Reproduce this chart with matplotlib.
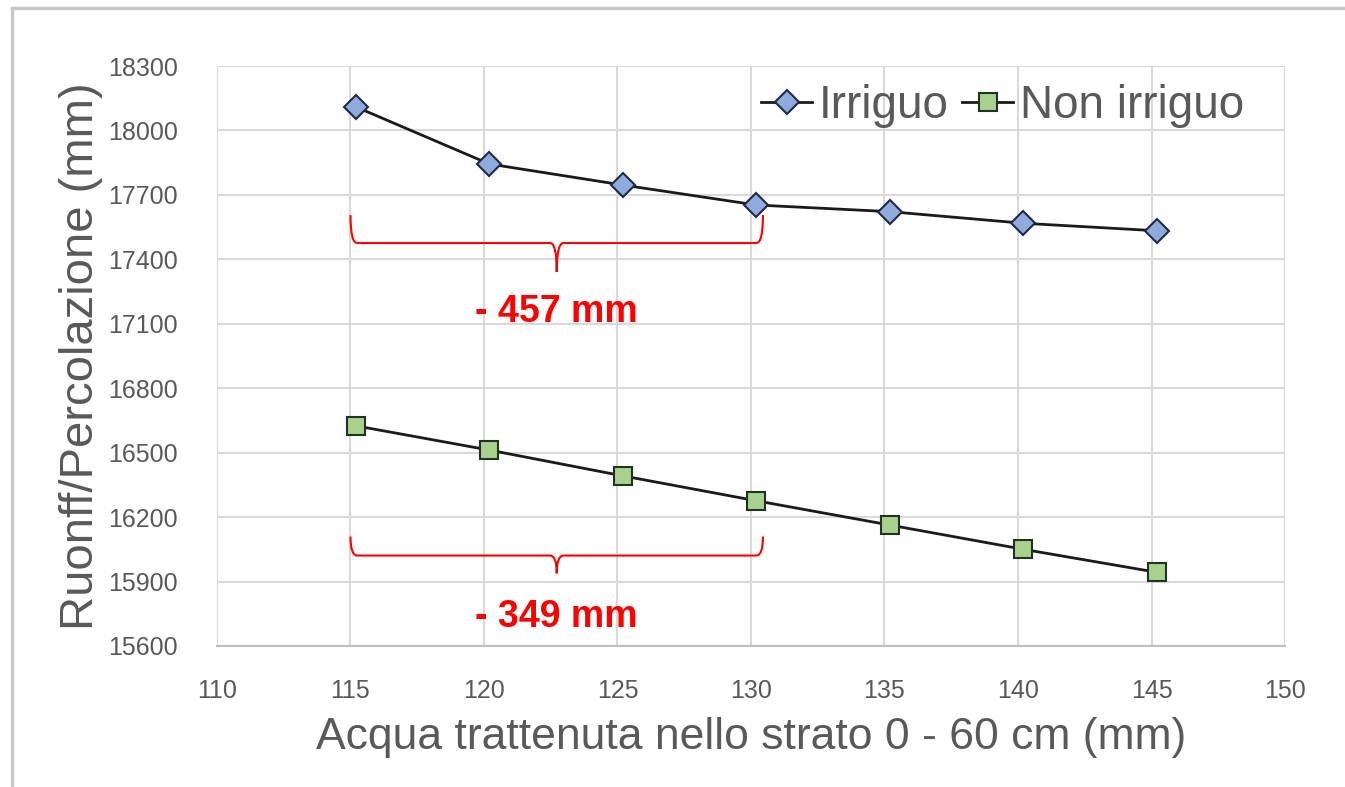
import matplotlib.pyplot as plt
from matplotlib.path import Path
from matplotlib.patches import PathPatch, Rectangle

# Water retained in the 0-60 cm layer (mm)
acqua = [115.2, 120.2, 125.2, 130.2, 135.2, 140.2, 145.2]
# Runoff / percolation (mm)
irriguo = [18110, 17844, 17746, 17653, 17622, 17568, 17533]
non_irriguo = [16625, 16512, 16392, 16276, 16163, 16050, 15943]

x_ticks = list(range(110, 151, 5))
y_ticks = list(range(15600, 18301, 300))

plt.rcParams['font.family'] = ['Liberation Sans', 'DejaVu Sans']

fig = plt.figure(figsize=(13.45, 7.87), dpi=100)
ax = fig.add_axes([0.1613, 0.1792, 0.7941, 0.7369])

# thin frame round the whole chart
fig.patches.append(Rectangle((0.009, -0.02), 1.2, 1.01, transform=fig.transFigure,
                             fill=False, edgecolor='#c8c8c8', linewidth=2.5))

ax.plot(acqua, irriguo, color='#1a1a1a', linewidth=2, marker='D', markersize=12,
        markerfacecolor='#8faadc', markeredgecolor='#1f2a44', markeredgewidth=1.5,
        label='Irriguo', zorder=3)
ax.plot(acqua, non_irriguo, color='#1a1a1a', linewidth=2, marker='s', markersize=13,
        markerfacecolor='#a9d18e', markeredgecolor='#1e3320', markeredgewidth=1.5,
        label='Non irriguo', zorder=3)

ax.set_xlim(110, 150)
ax.set_ylim(15600, 18300)
ax.set_xticks(x_ticks)
ax.set_yticks(y_ticks)
ax.grid(True, color='#d9d9d9', linewidth=1.5)
ax.set_axisbelow(True)
for side in ['top', 'right', 'left']:
    ax.spines[side].set_visible(False)
ax.spines['bottom'].set_color('#bfbfbf')
ax.spines['bottom'].set_linewidth(1.5)
ax.tick_params(length=0, labelsize=18, labelcolor='#595959')
ax.tick_params(axis='x', pad=24)
ax.tick_params(axis='y', pad=28)

ax.set_xlabel('Acqua trattenuta nello strato 0 - 60 cm (mm)', fontsize=32,
              color='#595959', labelpad=10)
ax.set_ylabel('Ruonff/Percolazione (mm)', fontsize=34, color='#595959', labelpad=4)

leg = ax.legend(loc='upper right', ncol=2, frameon=False, fontsize=33,
                handlelength=1.1, handletextpad=0.15, columnspacing=0.3,
                bbox_to_anchor=(1.0, 1.04), labelcolor='#595959')


def brace(x0, x1, ytop, ybar, ytip):
    xm = (x0 + x1) / 2
    dx = 0.25
    # left half: end hook, bar, then curve down into the tip
    left = [(x0, ytop), (x0, ybar), (x0 + dx, ybar),
            (xm - dx, ybar), (xm, ybar), (xm, ytip)]
    left_codes = [Path.MOVETO, Path.CURVE3, Path.CURVE3,
                  Path.LINETO, Path.CURVE3, Path.CURVE3]
    # right half: from the tip back up to the bar and the end hook
    right = [(xm, ytip), (xm, ybar), (xm + dx, ybar),
             (x1 - dx, ybar), (x1, ybar), (x1, ytop)]
    right_codes = [Path.MOVETO, Path.CURVE3, Path.CURVE3,
                   Path.LINETO, Path.CURVE3, Path.CURVE3]
    ax.add_patch(PathPatch(Path(left + right, left_codes + right_codes), fill=False,
                           edgecolor='red', linewidth=1.5, zorder=2))


brace(115.0, 130.45, 17606, 17476, 17341)
brace(115.0, 130.45, 16109, 16021, 15938)

ax.text(122.7, 17155, '- 457 mm', color='red', fontsize=27, fontweight='bold',
        ha='center', va='center')
ax.text(122.7, 15734, '- 349 mm', color='red', fontsize=27, fontweight='bold',
        ha='center', va='center')

fig.savefig('out.png', dpi=100)
